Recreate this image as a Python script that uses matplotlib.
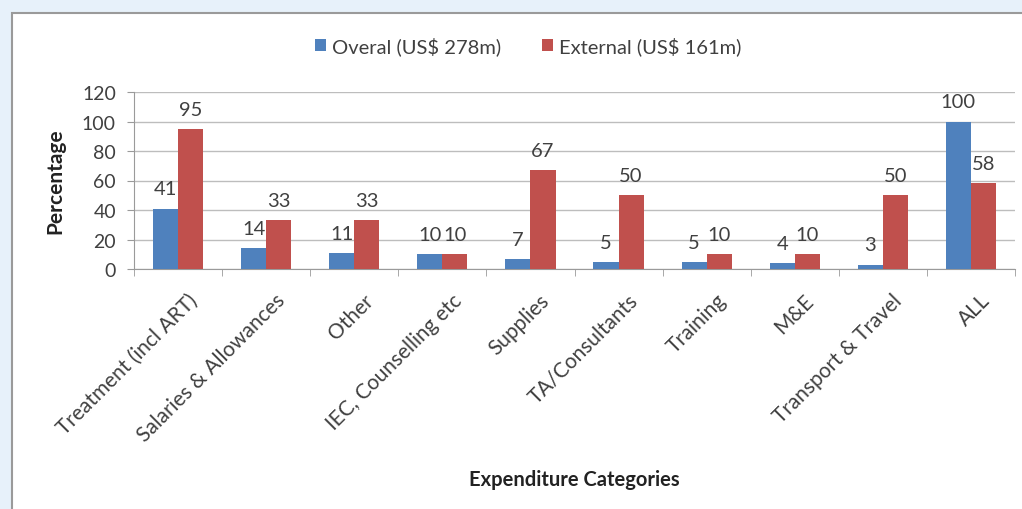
import matplotlib
matplotlib.use("Agg")
import numpy as np
import matplotlib.pyplot as plt
from matplotlib.patches import Rectangle
from matplotlib.transforms import ScaledTranslation

categories = ["Treatment (incl ART)", "Salaries & Allowances", "Other",
              "IEC, Counselling etc", "Supplies", "TA/Consultants",
              "Training", "M&E", "Transport & Travel", "ALL"]
overall = [41, 14, 11, 10, 7, 5, 5, 4, 3, 100]
external = [95, 33, 33, 10, 67, 50, 10, 10, 50, 58]
series_names = ["Overal (US$ 278m)", "External (US$ 161m)"]

blue = "#4f81bd"
red = "#c0504d"
txt = "#404040"

plt.rcParams["font.family"] = ["Lato", "DejaVu Sans"]

fig = plt.figure(figsize=(10.22, 5.10), dpi=100)
fig.patch.set_facecolor("#e7f1fa")
# white chart panel with grey border
fig.patches.append(Rectangle((12 / 1022, -0.01), 1.0, 1.01 - 14 / 510,
                             transform=fig.transFigure, facecolor="white",
                             edgecolor="#9a9a9a", linewidth=1.5, zorder=-10))

ax = fig.add_axes([134 / 1022, 1 - 270 / 510, (1015 - 134) / 1022, (270 - 93) / 510])
ax.set_facecolor("none")
ax.set_zorder(1)

x = np.arange(len(categories))
w = 0.285
b1 = ax.bar(x - w / 2, overall, w, color=blue, label=series_names[0], zorder=3)
b2 = ax.bar(x + w / 2, external, w, color=red, label=series_names[1], zorder=3)

for bars, vals in ((b1, overall), (b2, external)):
    for r, v in zip(bars, vals):
        ax.annotate(str(v), (r.get_x() + r.get_width() / 2, v), xytext=(0, 8),
                    textcoords="offset points", ha="center", va="bottom",
                    fontsize=14.5, color=txt)

ax.set_xlim(-0.5, len(categories) - 0.5)
ax.set_ylim(0, 120)
ax.set_yticks(range(0, 121, 20))
ax.yaxis.grid(True, color="#bdbdbd", linewidth=1, zorder=0)
ax.set_axisbelow(True)

ax.set_xticks(x)
ax.set_xticklabels(categories, rotation=45, ha="right", rotation_mode="anchor",
                   fontsize=15, color=txt)
ax.set_xticks(np.arange(-0.5, len(categories)), minor=True)
ax.tick_params(axis="x", which="major", length=0, pad=15)
ax.tick_params(axis="x", which="minor", length=5, color="#9a9a9a")
ax.tick_params(axis="y", length=5, pad=8, color="#9a9a9a", labelsize=14, labelcolor=txt)
for lab in ax.get_xticklabels():
    lab.set_transform(lab.get_transform() + ScaledTranslation(9 / 100, 0, fig.dpi_scale_trans))

for s in ("top", "right"):
    ax.spines[s].set_visible(False)
for s in ("left", "bottom"):
    ax.spines[s].set_color("#9a9a9a")

ax.set_ylabel("Percentage", fontsize=15, fontweight="bold", color="#222222", labelpad=12)
fig.text(574 / 1022, 1 - 480 / 510, "Expenditure Categories", ha="center", va="center",
         fontsize=14.5, fontweight="bold", color="#222222")

fig.legend(handles=[b1, b2], loc="center", bbox_to_anchor=(528 / 1022, 1 - 47 / 510),
           ncol=2, frameon=False, fontsize=14.5, handlelength=0.55, handleheight=0.55,
           handletextpad=0.3, columnspacing=2.0, labelcolor=txt)

fig.savefig("out.png", dpi=100, facecolor=fig.get_facecolor())
